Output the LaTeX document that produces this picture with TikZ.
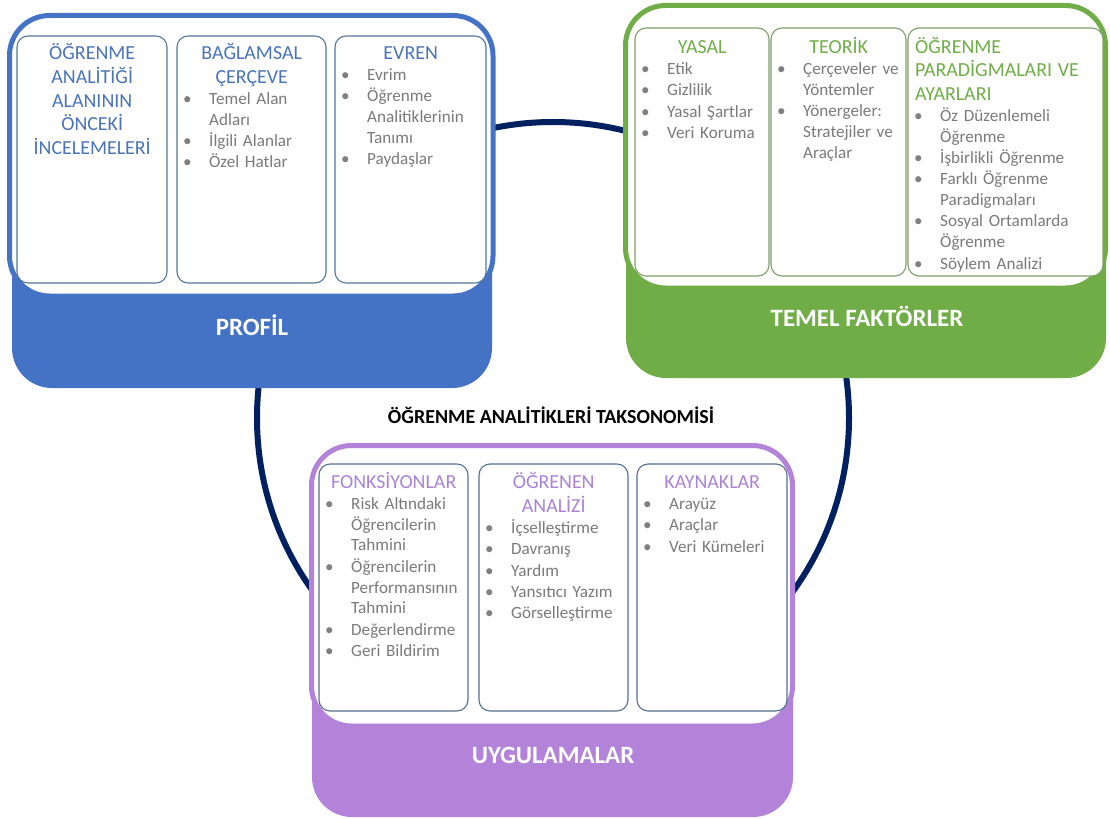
\documentclass[tikz,border=0pt]{standalone}
\usepackage{fontspec}
\setmainfont{Carlito}

\definecolor{navyring}{HTML}{002060}
\definecolor{profblue}{HTML}{4472C4}
\definecolor{factgreen}{HTML}{70AD47}
\definecolor{apppurple}{HTML}{B283D8}
\definecolor{bluehead}{HTML}{4A74B6}
\definecolor{greenhead}{HTML}{70AD47}
\definecolor{purplehead}{HTML}{AB83D4}
\definecolor{bluecol}{HTML}{56779C}
\definecolor{greencol}{HTML}{809E6C}
\definecolor{purplecol}{HTML}{55708F}
\definecolor{bodygray}{HTML}{7A7A7A}
\definecolor{dotgray}{HTML}{7F7F7F}

% text helpers for the column boxes
\newcommand\txfont{\fontsize{17.2}{20.8}\selectfont\parindent=0pt\parskip=0.6bp\rightskip=0pt plus 1fil\relax}
\newcommand\colhead[2]{{\fontsize{20}{24}\selectfont\parskip=0pt\centering\leavevmode\color{#1}\rule{0pt}{17bp}#2\par}}
\newcommand\colheadleft[2]{{\fontsize{20}{23.6}\selectfont\parskip=0pt\raggedright\leftskip=7bp\leavevmode\color{#1}\rule{0pt}{17bp}#2\par}}
\newcommand\bi[1]{\par\hangindent=32bp\hangafter=1\noindent\makebox[32bp][l]{\hspace{6bp}{\color{dotgray}\textbullet}}#1\par}

\tikzset{
  ring/.style={draw=navyring, line width=6bp},
  panelbase/.style={rounded corners=40bp},
  panelframe/.style={line width=5bp, fill=white, rounded corners=40bp},
  colbox/.style={line width=1.1bp, fill=white, rounded corners=11bp},
  coltext/.style={anchor=north west, inner sep=0pt, font=\txfont, text=bodygray},
  paneltitle/.style={anchor=base, inner sep=0pt, text=white, font=\fontsize{25}{30}\selectfont\bfseries},
  maintitle/.style={anchor=base, inner sep=0pt, text=black, font=\fontsize{20}{24}\selectfont\bfseries},
}

\begin{document}
\begin{tikzpicture}[x=1bp,y=-1bp]
\useasboundingbox (0,0) rectangle (1110,819);

% ring joining the three panels
\draw[ring] (553,418) circle[radius=296bp];

% ---------- PROFIL ----------
\fill[profblue, panelbase] (12,150) rectangle (492,388);
\draw[profblue, panelframe] (9.5,15.5) rectangle (493,296);
\draw[bluecol, colbox] (17,36) rectangle (167,283);
\draw[bluecol, colbox] (177,36) rectangle (326,283);
\draw[bluecol, colbox] (335,36) rectangle (486,283);
\node[coltext, text width=150bp] (p1) at (17,42)
  {\colhead{bluehead}{ÖĞRENME\\ANALİTİĞİ\\ALANININ\\ÖNCEKİ\\İNCELEMELERİ}};
\node[coltext, text width=149bp] (p2) at (177,42)
  {\colhead{bluehead}{BAĞLAMSAL\\ÇERÇEVE}%
   \bi{Temel~Alan\newline Adları}\bi{İlgili~Alanlar}\bi{Özel~Hatlar}};
\node[coltext, text width=151bp] (p3) at (335,42)
  {\colhead{bluehead}{EVREN}%
   \bi{Evrim}\bi{Öğrenme\newline Analitiklerinin\newline Tanımı}\bi{Paydaşlar}};
\node[paneltitle] (profil) at (252,335) {PROFİL};

% ---------- TEMEL FAKTÖRLER ----------
\fill[factgreen, panelbase] (626,150) rectangle (1106,378);
\draw[factgreen, panelframe] (625.5,5.5) rectangle (1105.5,288);
\draw[greencol, colbox] (635,28) rectangle (769,276);
\draw[greencol, colbox] (771,28) rectangle (906,276);
\draw[greencol, colbox] (908,28) rectangle (1103,276);
\node[coltext, text width=134bp] (f1) at (635,36)
  {\colhead{greenhead}{YASAL}%
   \bi{Etik}\bi{Gizlilik}\bi{Yasal~Şartlar}\bi{Veri~Koruma}};
\node[coltext, text width=135bp] (f2) at (771,36)
  {\colhead{greenhead}{TEORİK}%
   \bi{Çerçeveler~ve\newline Yöntemler}\bi{Yönergeler:\newline Stratejiler~ve\newline Araçlar}};
\node[coltext, text width=195bp] (f3) at (908,36)
  {\colheadleft{greenhead}{ÖĞRENME\\PARADİGMALARI~VE\\AYARLARI}%
   \bi{Öz~Düzenlemeli\newline Öğrenme}\bi{İşbirlikli~Öğrenme}\bi{Farklı~Öğrenme\newline Paradigmaları}%
   \bi{Sosyal~Ortamlarda\newline Öğrenme}\bi{Söylem~Analizi}};
\node[paneltitle] (temel) at (867,326) {TEMEL FAKTÖRLER};

% ---------- title ----------
\node[maintitle] (taks) at (551,423) {ÖĞRENME ANALİTİKLERİ TAKSONOMİSİ};

% ---------- UYGULAMALAR ----------
\fill[apppurple, panelbase] (312,600) rectangle (793,817);
\draw[apppurple, panelframe] (311.5,445.5) rectangle (792.5,726);
\draw[purplecol, colbox] (319,464) rectangle (468,711);
\draw[purplecol, colbox] (479,464) rectangle (628,711);
\draw[purplecol, colbox] (637,464) rectangle (787,711);
\node[coltext, text width=149bp] (u1) at (319,471)
  {\colhead{purplehead}{FONKSİYONLAR}%
   \bi{Risk~Altındaki\newline Öğrencilerin\newline Tahmini}\bi{Öğrencilerin\newline Performansının\newline Tahmini}%
   \bi{Değerlendirme}\bi{Geri~Bildirim}};
\node[coltext, text width=149bp] (u2) at (479,471)
  {\colhead{purplehead}{ÖĞRENEN\\ANALİZİ}%
   \bi{İçselleştirme}\bi{Davranış}\bi{Yardım}\bi{Yansıtıcı~Yazım}\bi{Görselleştirme}};
\node[coltext, text width=150bp] (u3) at (637,471)
  {\colhead{purplehead}{KAYNAKLAR}%
   \bi{Arayüz}\bi{Araçlar}\bi{Veri~Kümeleri}};
\node[paneltitle] (uygu) at (553,763) {UYGULAMALAR};
\end{tikzpicture}
\end{document}
